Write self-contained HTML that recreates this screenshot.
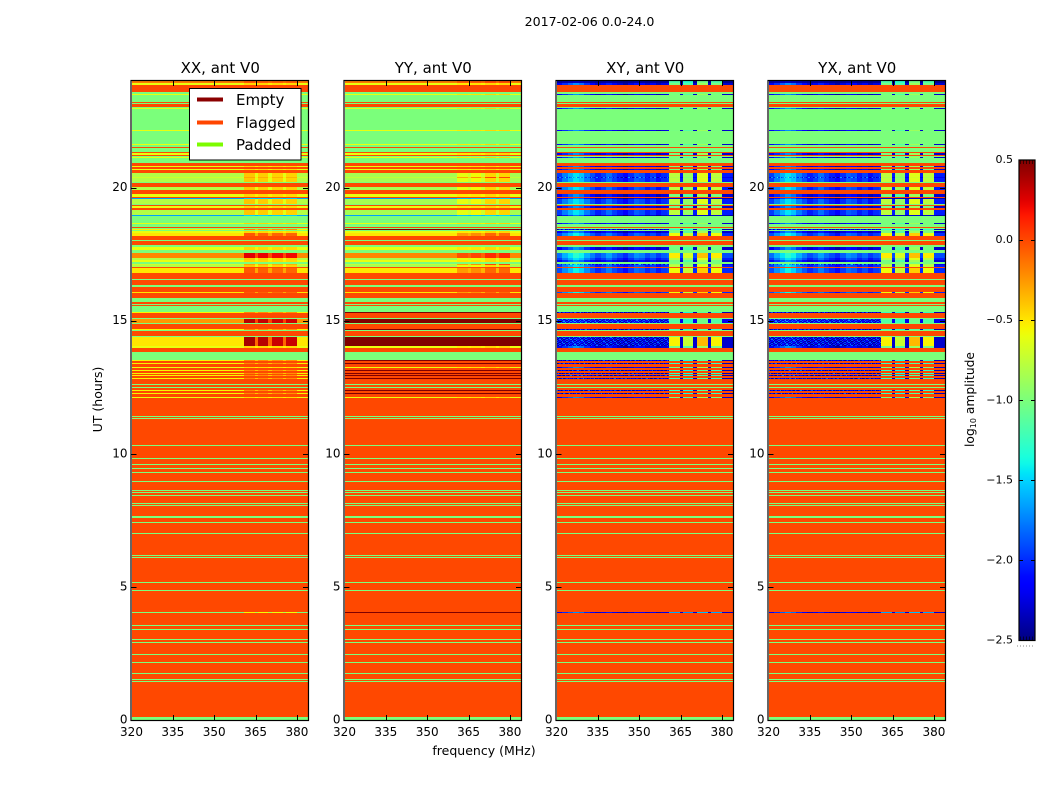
<!DOCTYPE html>
<html lang="en">
<head>
<meta charset="utf-8">
<title>2017-02-06 0.0-24.0</title>
<style>
html,body{margin:0;padding:0;background:#fff;}
svg{display:block;font-family:"DejaVu Sans","Liberation Sans",sans-serif;fill:#000;}
</style>
</head>
<body>
<svg id="chart" xmlns="http://www.w3.org/2000/svg" width="1050" height="800" viewBox="0 0 1050 800">
  <rect x="0" y="0" width="1050" height="800" fill="#ffffff"/>
  <text x="589.5" y="26" font-size="12.6" text-anchor="middle">2017-02-06 0.0-24.0</text>
  <text x="0" y="0" font-size="12.5" text-anchor="middle" transform="translate(102,399.5) rotate(-90)">UT (hours)</text>
  <text x="484" y="755" font-size="12.5" text-anchor="middle">frequency (MHz)</text>
  <text x="0" y="0" font-size="12.3" text-anchor="middle" transform="translate(974,399.5) rotate(-90)">log<tspan font-size="8" dy="2">10</tspan><tspan dy="-2"> amplitude</tspan></text>
  <g id="plots"></g>
  <g id="legend">
    <rect x="189.5" y="88.5" width="111.5" height="71.5" fill="#ffffff" stroke="#000000" stroke-width="1"/>
    <line x1="197" x2="223" y1="99.5" y2="99.5" stroke="#8b0000" stroke-width="4"/>
    <text x="236" y="105" font-size="15">Empty</text>
    <line x1="197" x2="223" y1="122.5" y2="122.5" stroke="#ff4500" stroke-width="4"/>
    <text x="236" y="128" font-size="15">Flagged</text>
    <line x1="197" x2="223" y1="144.5" y2="144.5" stroke="#7cfc00" stroke-width="4"/>
    <text x="236" y="150" font-size="15">Padded</text>
  </g>
  <g id="colorbar"></g>
</svg>
<script>
// Band classes: F flagged, P padded, others are measured-data classes
const F=0,P=1,A=2,B=3,C=4,D=5,E=6,H=7,Y=8,G=9,T=10,L=11,M=12;

// Duration of each time band, top (24 h) to bottom (0 h), in integrations
const bandBins=[
2,2,7,2,1,7,1,1,3,1,
1,21,1,13,1,2,1,4,1,2,
1,1,1,5,3,1,2,1,3,4,
1,4,1,4,3,4,3,1,1,5,
1,1,2,2,5,1,7,1,3,1,1,
1,1,2,3,4,1,4,2,3,
3,5,2,2,2,1,2,1,5,6,1,5,2,5,1,5,4,2,1,1,6,1,5,1,4,1,5,1,1,5,1,9,2,4,8,
1,2,1,3,1,2,1,2,1,1,1,2,1,5,1,2,1,2,1,2,1,3,1,18,1,1,1,
26,1,12,1,5,1,3,1,3,1,8,1,8,1,1,1,2,1,7,1,1,1,10,2,4,1,10,1,21,1,1,1,24,1,7,1,
21,1,12,1,3,1,9,1,2,1,11,1,7,1,10,1,5,1,1,1,35,3];

// Class of each time band (same order as bandBins)
const bandClass=[
T,A,F,P,A,P,F,P,F,P,
A,P,A,P,A,P,F,P,F,A,
F,P,A,P,F,A,F,A,F,H,
G,H,P,F,H,F,A,F,Y,H,
P,F,A,F,H,Y,P,A,P,F,P,
E,P,A,B,F,P,F,P,A,
P,C,H,A,P,G,H,F,B,F,P,F,P,F,B,F,P,F,P,F,P,E,F,P,M,P,F,E,P,F,P,D,A,F,P,
E,F,E,F,A,F,E,F,E,F,E,F,E,F,P,F,P,F,E,F,E,F,A,F,P,F,P,
F,P,F,P,F,P,F,P,F,P,F,P,F,P,F,P,F,P,F,P,F,P,F,P,F,P,F,P,F,P,F,P,F,P,F,P,
F,L,F,P,F,P,F,P,F,P,F,P,F,P,F,P,F,P,F,P,F,P];

// log10 amplitude per class, low-frequency part and hot high-frequency patches
const xxLow =[0,-1,-0.6,-0.5,-0.2,-0.5,-0.55,-0.8,-1.65,-0.7,-0.15,-1.0,-0.25];
const xxHigh=[0,-1,-0.45,-0.05,0.25,0.4,-0.2,-0.4,-1.5,-0.3,-0.05,-0.55,0.35];
const yyLow =[0,-1,-0.6,-0.5,-0.2,0.5,0.5,-0.85,-1.65,-0.75,-0.15,0.5,0.5];
const yyHigh=[0,-1,-0.45,-0.1,0.1,0.5,0.5,-0.45,-1.5,0.0,0.0,0.5,0.5];
const xyLow =[0,-1,-2.3,-2.0,-1.9,-2.3,-2.35,-2.05,-2.4,-2.2,-2.45,-2.3,-2.2];
const xyHigh=[0,-1,-0.95,-0.5,-0.45,-0.45,-1.2,-0.7,-2.3,-0.75,-1.1,-1.6,-1.1];
const yxLow =[0,-1,-2.3,-2.0,-1.9,-2.3,-2.35,-2.05,-2.4,-2.2,-2.45,-2.3,-2.2];
const yxHigh=[0,-1,-0.95,-0.5,-0.45,-0.45,-1.2,-0.7,-2.3,-0.75,-1.1,-1.6,-1.1];

// Relative strength of the four high-frequency patches in each panel
const xxPatch=[1,0.95,0.9,0.9];
const yyPatch=[0.6,0.7,1,1];
const xyPatch=[0.95,0.85,1.05,0.95];
const yxPatch=[0.95,0.85,1.05,0.95];

// Frequency edges (MHz) of the high-frequency patches: start,end pairs
const patchEdges=[360.8,364.8,365.8,369.5,370.9,374.9,376,380];

// Cross-pol brightness across 320-360 MHz (2 MHz steps) and fine pixel-scale noise
const crossProfile=[0.1,0.3,0.45,0.6,0.5,0.3,0.15,0,0.1,0.25,0.1,0,-0.1,0.05,0.2,0.15,0,0.1,-0.05,0.05,0.1];
const crossNoise=[0.1,-0.1,0.25,0,-0.2,0.4,0.05,-0.15,0.15,0.5,-0.05,0.2,-0.2,0,0.35,-0.1,0.1,0.45,-0.15,0.05,0.3,-0.05,0.2];

// Axis labels
const freqTicks=[320,335,350,365,380];
const hourTicks=[0,5,10,15,20];
const panelNames=['XX, ant V0','YY, ant V0','XY, ant V0','YX, ant V0'];
const colorbarTicks=[0.5,0,-0.5,-1,-1.5,-2,-2.5];

const SVGNS='http://www.w3.org/2000/svg';
function mk(parent,tag,attrs,text){
  const el=document.createElementNS(SVGNS,tag);
  for(const k in attrs){el.setAttribute(k,attrs[k]);}
  if(text!==undefined){el.textContent=text;}
  parent.appendChild(el);
  return el;
}
function jetChannel(pts,t){
  for(let i=1;i<pts.length;i++){
    if(t<=pts[i][0]){
      const a=pts[i-1],b=pts[i];
      return a[1]+(b[1]-a[1])*(t-a[0])/(b[0]-a[0]);
    }
  }
  return pts[pts.length-1][1];
}
const jetR=[[0,0],[0.35,0],[0.66,1],[0.89,1],[1,0.5]];
const jetG=[[0,0],[0.125,0],[0.375,1],[0.64,1],[0.91,0],[1,0]];
const jetB=[[0,0.5],[0.11,1],[0.34,1],[0.65,0],[1,0]];
function colorOf(v){
  const t=Math.max(0,Math.min(1,(v+2.5)/3));
  const c=[jetR,jetG,jetB].map(p=>Math.round(255*jetChannel(p,t)));
  return 'rgb('+c.join(',')+')';
}

const axTop=81,axBottom=720,axWidth=176.5;
const yOf=h=>axBottom-h*(axBottom-axTop)/24;
const totalBins=bandBins.reduce((s,b)=>s+b,0);
const panels=[
  {left:131.5,low:xxLow,high:xxHigh,patch:xxPatch,gap:0.45,cross:false},
  {left:344.5,low:yyLow,high:yyHigh,patch:yyPatch,gap:0.4,cross:false},
  {left:556.5,low:xyLow,high:xyHigh,patch:xyPatch,gap:0,cross:true},
  {left:768.5,low:yxLow,high:yxHigh,patch:yxPatch,gap:0,cross:true}
];
const plots=document.getElementById('plots');

panels.forEach(function(p,pi){
  const xOf=f=>p.left+(f-320)*axWidth/64;
  const g=mk(plots,'g',{'shape-rendering':'crispEdges'});
  
  

  function cell(f0,f1,h0,h1,v){
    const x0=Math.round(xOf(f0)),x1=Math.round(xOf(f1));
    const y0=Math.round(yOf(h0)),y1=Math.round(yOf(h1));
    if(x1<=x0||y1<=y0){return;}
    const r=mk(g,'rect',{x:x0,y:y0,width:x1-x0,height:y1-y0,fill:colorOf(v)});
    
    
  }

  let elapsed=0;
  bandBins.forEach(function(bins,i){
    const hTop=24*(1-elapsed/totalBins);
    elapsed+=bins;
    const hBot=24*(1-elapsed/totalBins);
    const k=bandClass[i];
    const low=p.low[k],high=p.high[k];
    if(k===F||k===P){
      cell(320,384,hTop,hBot,low);
      return;
    }
    // low-frequency part
    if(p.cross){
      const rowH=(hTop-hBot)/bins;
      const quiet=(k===D||k===E||k===T||k===M);
      for(let r=0;r<bins;r++){
        let n=0;
        for(let f=320;f<patchEdges[0];f+=0.5){
          const idx=Math.floor((f-320)/2);
          let v=low+crossProfile[idx]*(quiet?0.2:1);
          if(k===D||k===E||k===G||k===M){v+=crossNoise[(n+(i+r)*7)%crossNoise.length];}
          cell(f,Math.min(f+0.5,patchEdges[0]),hTop-r*rowH,hTop-(r+1)*rowH,v);
          n++;
        }
      }
    }else{
      cell(320,patchEdges[0],hTop,hBot,low);
    }
    // patches and the gaps between them
    for(let q=0;q<4;q++){
      cell(patchEdges[q*2],patchEdges[q*2+1],hTop,hBot,low+p.patch[q]*(high-low));
      if(q<3){
        cell(patchEdges[q*2+1],patchEdges[q*2+2],hTop,hBot,low+p.gap*(high-low));
      }
    }
    cell(patchEdges[7],384,hTop,hBot,low);
  });

  // frame
  const frame=mk(plots,'rect',{x:p.left-0.5,y:axTop-0.5,width:axWidth+1,height:axBottom-axTop+1,fill:'none',stroke:'#000','stroke-width':1.2});
  
  

  // title
  const title=mk(plots,'text',{x:p.left+axWidth/2+0.5,y:73,'font-size':15,'text-anchor':'middle'},panelNames[pi]);
  
  

  // x ticks
  freqTicks.forEach(function(f){
    const x=Math.round(xOf(f))+0.5;
    if(f!==320){
      const t1=mk(plots,'line',{x1:x,x2:x,y1:axBottom,y2:axBottom-5,stroke:'#000','stroke-width':1});
      
      
      const t2=mk(plots,'line',{x1:x,x2:x,y1:axTop,y2:axTop+5,stroke:'#000','stroke-width':1});
      
      
    }
    const lab=mk(plots,'text',{x:xOf(f),y:736,'font-size':12,'text-anchor':'middle'},String(f));
    
    
  });

  // y ticks
  hourTicks.forEach(function(h){
    const y=Math.round(yOf(h))+0.5;
    if(h!==0){
      const t1=mk(plots,'line',{x1:p.left,x2:p.left+5,y1:y,y2:y,stroke:'#000','stroke-width':1});
      
      
      const t2=mk(plots,'line',{x1:p.left+axWidth,x2:p.left+axWidth-5,y1:y,y2:y,stroke:'#000','stroke-width':1});
      
      
    }
    const lab=mk(plots,'text',{x:p.left-4,y:yOf(h)+3.5,'font-size':12,'text-anchor':'end'},String(h));
    
    
  });
});

// Colorbar
const cb=document.getElementById('colorbar');
const cbLeft=1019,cbRight=1035,cbTop=160,cbBottom=640.5;
const cbY=v=>cbTop+(0.5-v)*(cbBottom-cbTop)/3;
const defs=mk(cb,'defs',{});
const grad=mk(defs,'linearGradient',{id:'jetGrad',x1:0,x2:0,y1:1,y2:0});
for(let i=0;i<=60;i++){
  const st=mk(grad,'stop',{offset:(i/60),'stop-color':colorOf(-2.5+3*i/60)});
  
  
}
const cbBar=mk(cb,'rect',{x:cbLeft,y:cbTop,width:cbRight-cbLeft,height:cbBottom-cbTop,fill:'url(#jetGrad)',stroke:'#000','stroke-width':1.2});


colorbarTicks.forEach(function(v){
  const y=Math.round(cbY(v))+0.5;
  if(v!==0.5&&v!==-2.5){
    const t1=mk(cb,'line',{x1:cbLeft,x2:cbLeft+4,y1:y,y2:y,stroke:'#000','stroke-width':1});
    
    
    const t2=mk(cb,'line',{x1:cbRight-4,x2:cbRight,y1:y,y2:y,stroke:'#000','stroke-width':1});
    
    
  }
  const txt=(v<0?'\u2212':'')+Math.abs(v).toFixed(1);
  const lab=mk(cb,'text',{x:1013,y:cbY(v)+3,'font-size':11,'text-anchor':'end'},txt);
  
  
});
const minorTop=mk(cb,'line',{x1:cbLeft+1,x2:cbRight-1,y1:162,y2:162,stroke:'#000','stroke-width':4,'stroke-dasharray':'1 2',opacity:0.6});


const minorBot=mk(cb,'line',{x1:cbLeft+1,x2:cbRight-1,y1:638.5,y2:638.5,stroke:'#000','stroke-width':4,'stroke-dasharray':'1 2',opacity:0.6});


const dots=mk(cb,'line',{x1:cbLeft-2,x2:cbRight,y1:646,y2:646,stroke:'#888','stroke-width':1,'stroke-dasharray':'1 2'});


</script>
</body>
</html>
